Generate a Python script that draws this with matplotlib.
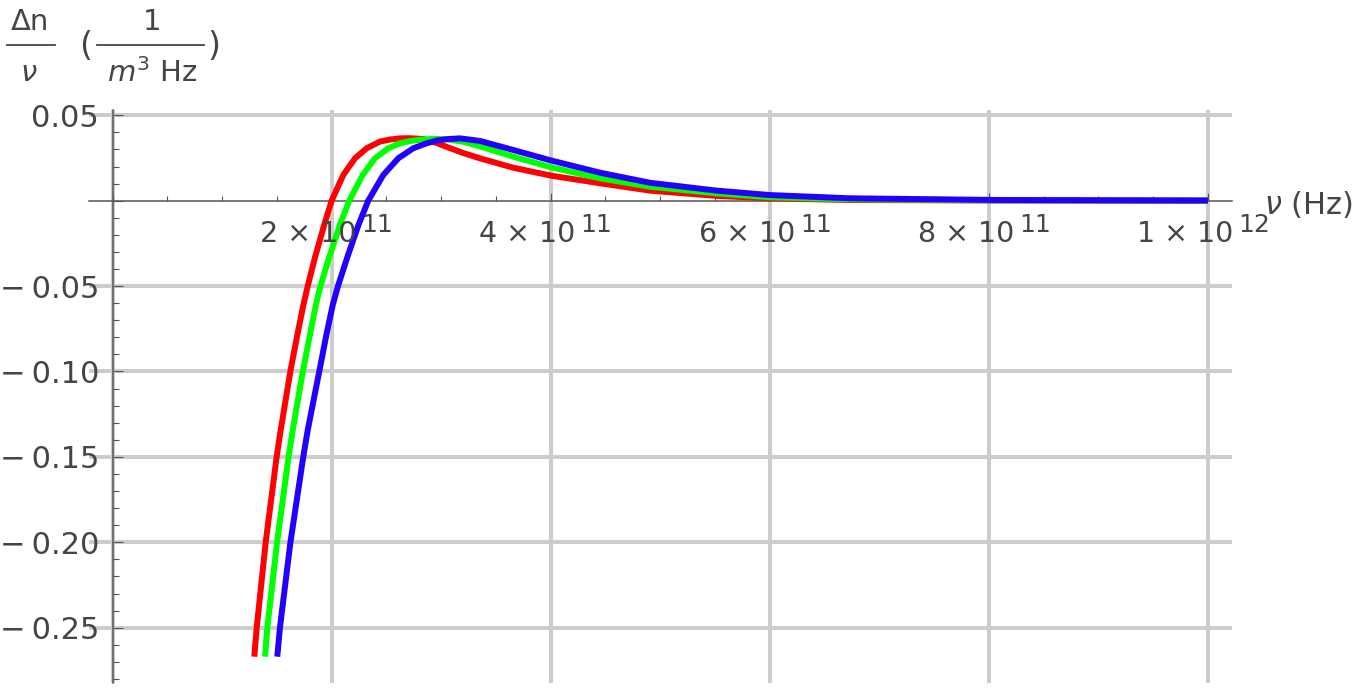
import numpy as np
import matplotlib
matplotlib.use("Agg")
import matplotlib.pyplot as plt
from matplotlib.lines import Line2D
from matplotlib.ticker import MultipleLocator

# ---- data (frequency in units of 1e11 Hz, values of Δn/ν) ----
nu_red = [1.294, 1.316, 1.398, 1.498, 1.535, 1.623, 1.690, 1.742, 1.782, 1.846,
          1.932, 2.000, 2.106, 2.213, 2.320, 2.441, 2.532, 2.624, 2.71, 2.837,
          2.959, 3.05, 3.202, 3.354, 3.658, 4.0, 4.45, 4.906, 5.515, 6.0,
          6.73, 8.1, 10.0]
dn_red = [-0.267, -0.25, -0.20, -0.15, -0.1343, -0.10, -0.0776, -0.0611, -0.05, -0.0337,
          -0.0142, 0.0, 0.0150, 0.0248, 0.0307, 0.0346, 0.0358, 0.0365, 0.0366, 0.0361,
          0.0338, 0.0315, 0.0279, 0.0248, 0.0193, 0.0147, 0.0102, 0.0059, 0.0028, 0.0014,
          0.0004, 0.0001, 0.0]

nu_green = [1.392, 1.413, 1.502, 1.607, 1.645, 1.737, 1.805, 1.856, 1.898, 1.975,
            2.075, 2.161, 2.283, 2.395, 2.517, 2.624, 2.722, 2.806, 2.93, 3.05,
            3.20, 3.354, 3.658, 4.0, 4.45, 4.906, 5.515, 6.0, 6.73, 8.1, 10.0]
dn_green = [-0.267, -0.25, -0.20, -0.15, -0.1343, -0.10, -0.0776, -0.0611, -0.05, -0.0337,
            -0.0142, 0.0, 0.0150, 0.0248, 0.0307, 0.0336, 0.0350, 0.0357, 0.0362, 0.0360,
            0.0345, 0.0318, 0.0258, 0.0196, 0.0131, 0.0082, 0.0043, 0.0020, 0.0008, 0.0002, 0.0]

nu_blue = [1.504, 1.528, 1.624, 1.741, 1.782, 1.887, 1.955, 2.010, 2.058, 2.140,
           2.245, 2.334, 2.471, 2.608, 2.745, 2.867, 2.96, 3.05, 3.17, 3.354,
           3.658, 4.0, 4.45, 4.906, 5.515, 6.0, 6.73, 8.1, 10.0]
dn_blue = [-0.267, -0.25, -0.20, -0.15, -0.1343, -0.10, -0.0776, -0.0611, -0.05, -0.0337,
           -0.0142, 0.0, 0.0150, 0.0248, 0.0307, 0.0336, 0.0352, 0.0360, 0.0365, 0.0350,
           0.0297, 0.0236, 0.0164, 0.0105, 0.0059, 0.0033, 0.0014, 0.0004, 0.0001]

x_ticks = [2e11, 4e11, 6e11, 8e11, 1e12]
x_tick_mant = ["2 × 10", "4 × 10", "6 × 10", "8 × 10", "1 × 10"]
x_tick_exp = ["11", "11", "11", "11", "12"]
y_ticks = [0.05, 0.0, -0.05, -0.10, -0.15, -0.20, -0.25]
y_tick_labels = ["0.05", "", "−\u20090.05", "−\u20090.10", "−\u20090.15",
                 "−\u20090.20", "−\u20090.25"]
y_grid = [0.05, -0.05, -0.10, -0.15, -0.20, -0.25]

# ---- style ----
plt.rcParams['font.family'] = ['DejaVu Sans']
plt.rcParams['mathtext.fontset'] = 'dejavusans'
TC = '#454545'
AX = '#555555'
GRID = '#cccccc'

W, H = 1364, 689
fig = plt.figure(figsize=(W / 100, H / 100), dpi=100)

def fx(px):
    return px / W

def fy(py):
    return 1 - py / H

ax = fig.add_axes([fx(89), fy(683), (1231.7 - 89) / W, (683 - 110) / H])
ax.set_xlim(-0.215e11, 10.217e11)
ax.set_ylim(-0.2824, 0.0531)

# grid lines
for g in y_grid:
    ax.axhline(g, color=GRID, lw=2.9, zorder=0)
for g in [0.0] + x_ticks:
    ax.axvline(g, color=GRID, lw=2.9, zorder=0)

# curves
for nu, dn, c in [(nu_red, dn_red, '#ff0000'),
                  (nu_green, dn_green, '#00ff00'),
                  (nu_blue, dn_blue, '#2200ff')]:
    ax.plot(np.array(nu) * 1e11, dn, color=c, lw=4.3, zorder=3,
            solid_capstyle='butt', solid_joinstyle='round')

# spines
for s in ['top', 'right']:
    ax.spines[s].set_visible(False)
ax.spines['left'].set_position(('data', 0))
ax.spines['bottom'].set_position(('data', 0))
for s in ['left', 'bottom']:
    ax.spines[s].set_color(AX)
    ax.spines[s].set_linewidth(1.1)
    ax.spines[s].set_zorder(2)

# ticks
ax.set_xticks(x_ticks)
ax.set_xticklabels([])
ax.xaxis.set_minor_locator(MultipleLocator(5e10))
ax.set_yticks(y_ticks)
ax.set_yticklabels(y_tick_labels)
ax.yaxis.set_minor_locator(MultipleLocator(0.01))
ax.tick_params(axis='x', which='major', direction='in', length=5.8, width=0.8,
               color=AX, labelbottom=False)
ax.tick_params(axis='x', which='minor', direction='in', length=3.6, width=0.8,
               color=AX)
ax.tick_params(axis='y', which='major', direction='in', length=7.2, width=0.8,
               color=AX, pad=9.8, labelsize=22, labelcolor=TC)
ax.tick_params(axis='y', which='minor', direction='in', length=4.3, width=0.8,
               color=AX)

# x tick labels (mantissa + large exponent, Mathematica style)
for t, m, e in zip(x_ticks, x_tick_mant, x_tick_exp):
    ax.annotate(m, xy=(t, 0), xytext=(25, -41), textcoords='offset pixels',
                ha='right', va='baseline', fontsize=20.5, color=TC, zorder=6,
                annotation_clip=False)
    ax.annotate(e, xy=(t, 0), xytext=(30, -31), textcoords='offset pixels',
                ha='left', va='baseline', fontsize=18, color=TC, zorder=6,
                annotation_clip=False)

# x axis label
fig.text(fx(1264), fy(205), r"$\nu$ (Hz)", fontsize=22, color=TC,
         ha='left', va='center')

# y axis label: Δn/ν (1/(m^3 Hz))
fig.text(fx(30), fy(22), "Δn", fontsize=21, color=TC, ha='center', va='center')
fig.add_artist(Line2D([fx(7), fx(55)], [fy(45), fy(45)], transform=fig.transFigure,
                      color=TC, lw=1.3))
fig.text(fx(29), fy(73), "ν", fontsize=21, color=TC, style='italic',
         ha='center', va='center')
fig.text(fx(86), fy(46), "(", fontsize=24, color=TC, ha='center', va='center')
fig.text(fx(152), fy(22), "1", fontsize=21, color=TC, ha='center', va='center')
fig.add_artist(Line2D([fx(97), fx(204)], [fy(45), fy(45)], transform=fig.transFigure,
                      color=TC, lw=1.3))
fig.text(fx(152), fy(73), r"$m^{3}$ Hz", fontsize=21, color=TC,
         ha='center', va='center')
fig.text(fx(214), fy(46), ")", fontsize=24, color=TC, ha='center', va='center')

fig.savefig("out.png", dpi=100)
